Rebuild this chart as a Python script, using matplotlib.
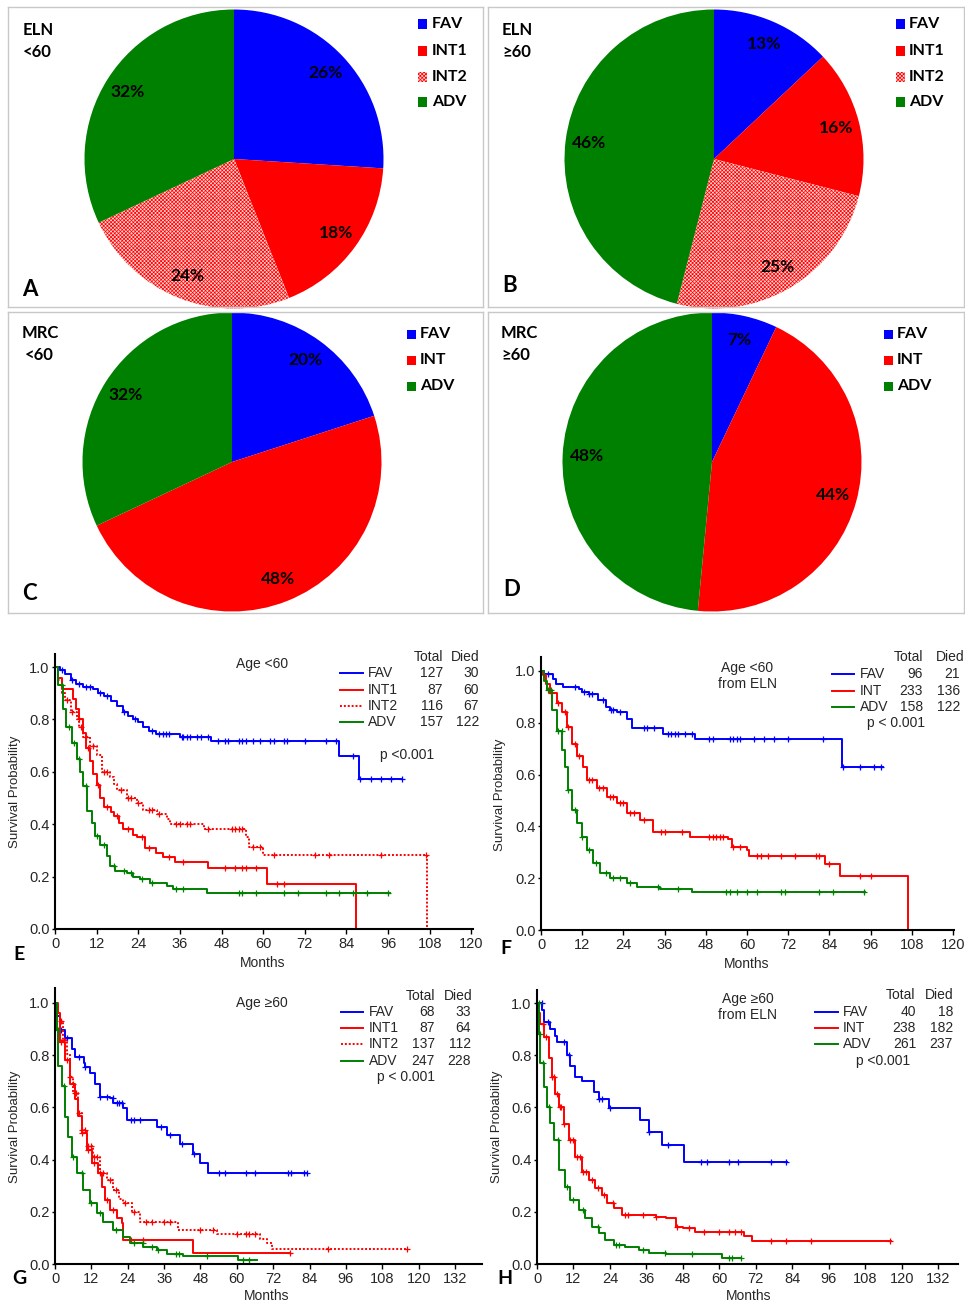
import numpy as np
import matplotlib
matplotlib.use('Agg')
import matplotlib.pyplot as plt
from matplotlib.lines import Line2D
from matplotlib.patches import Rectangle
from matplotlib.ticker import FormatStrFormatter

W, H = 965, 1305
plt.rcParams['hatch.linewidth'] = 0.5

BLUE, RED, GREEN, PINK = '#0000ff', '#ff0000', '#008000', '#ffd2d2'
PIEFONT = ['Lato', 'DejaVu Sans']
KMFONT = ['Liberation Sans', 'DejaVu Sans']
INK = '#262626'

# ---- pie data (percent of patients) ----
ELN_GROUPS = ['FAV', 'INT1', 'INT2', 'ADV']
MRC_GROUPS = ['FAV', 'INT', 'ADV']
eln_lt60 = [26, 18, 24, 32]
eln_ge60 = [13, 16, 25, 46]
mrc_lt60 = [20, 48, 32]
mrc_ge60 = [7, 44, 48]

# ---- Kaplan-Meier curves: step times, survival after step, censor times ----
# E: age <60, ELN
E_FAV_T = [0, 1.5, 3, 4.5, 6, 8, 11, 12.5, 14, 16, 18, 19.5, 21, 22.5, 24, 25.5, 27, 29, 36, 45, 82, 87.5]
E_FAV_S = [1.0, 0.99, 0.975, 0.95, 0.935, 0.925, 0.915, 0.90, 0.89, 0.87, 0.85, 0.83, 0.815, 0.80, 0.79, 0.77,
           0.755, 0.745, 0.735, 0.716, 0.66, 0.573]
E_FAV_C = [2, 5, 7, 9, 10, 13, 15, 20, 23, 28, 30, 31, 32, 33, 36.5, 37, 38, 39, 41, 42, 44, 47, 49, 50, 53, 54,
           55, 57, 59, 62, 63, 66, 67, 72, 78, 81, 86, 88, 91, 94, 97, 100]
E_INT1_T = [0, 1, 2, 5.3, 6, 7, 8, 9, 10, 11, 12, 13, 14, 16, 17, 18.5, 19.5, 22.5, 23.5, 26, 29, 31, 34.5, 44, 61, 86.8]
E_INT1_S = [1.0, 0.96, 0.916, 0.88, 0.84, 0.80, 0.75, 0.69, 0.64, 0.59, 0.55, 0.50, 0.465, 0.445, 0.43, 0.405,
            0.38, 0.36, 0.35, 0.31, 0.29, 0.275, 0.255, 0.233, 0.172, 0.0]
E_INT1_C = [7, 9.5, 12.5, 15, 18, 21, 25, 27, 33, 37, 49, 52, 54, 55, 58, 64, 66]
E_INT2_T = [0, 1, 2, 3, 4.5, 6.25, 7, 8.2, 10, 12, 13.5, 15.9, 17, 17.8, 20.7, 23.6, 25.5, 29.3, 32.2, 33.2, 43,
            55, 56, 60, 107.2]
E_INT2_S = [1.0, 0.95, 0.9, 0.875, 0.83, 0.80, 0.77, 0.735, 0.70, 0.665, 0.60, 0.58, 0.555, 0.53, 0.50, 0.48,
            0.455, 0.44, 0.42, 0.40, 0.383, 0.35, 0.313, 0.284, 0.0]
E_INT2_C = [3.5, 5, 7.5, 9, 11, 14, 15, 19, 21, 22, 24, 27, 28, 30, 35, 36, 38, 39, 44, 51, 52, 53, 54, 57, 59,
            63, 75, 79, 94, 107]
E_ADV_T = [0, 1, 2.4, 3.3, 4.8, 6.3, 7.2, 8.2, 9.3, 10.6, 11.5, 13, 14.9, 15.9, 17.3, 20.7, 22.6, 24.5, 27.4,
           32.2, 34, 43.8]
E_ADV_S = [1.0, 0.93, 0.84, 0.77, 0.71, 0.65, 0.60, 0.545, 0.45, 0.405, 0.354, 0.322, 0.277, 0.24, 0.22, 0.214,
           0.20, 0.19, 0.176, 0.163, 0.153, 0.137]
E_ADV_C = [2, 4, 5.5, 7, 9, 12, 14, 17, 20, 22, 25, 28, 35, 37, 53, 54, 58, 66, 70, 78, 82, 86, 90, 96]
E_END = [100, 86.8, 107.2, 96.6]

# F: age <60, MRC from ELN
F_FAV_T = [0, 1, 3.6, 4.5, 6.5, 11, 12, 14, 16.5, 19, 20, 22, 25, 26.5, 35.6, 45, 87.8]
F_FAV_S = [1.0, 0.99, 0.97, 0.95, 0.94, 0.93, 0.92, 0.91, 0.887, 0.86, 0.85, 0.84, 0.816, 0.778, 0.758, 0.736, 0.63]
F_FAV_C = [2, 10, 12.5, 14, 15, 18, 20.5, 21, 23, 30, 31, 33, 37, 38, 39, 40, 42, 44, 49, 50, 55, 56, 57, 58, 62,
           65, 68, 72, 82, 88, 93, 97, 99]
F_INT_T = [0, 0.6, 1.5, 2.6, 4.6, 6.1, 7.6, 9, 10.4, 12.3, 13.3, 16.2, 19.1, 22, 25, 28.8, 32.6, 43.4, 54.5, 55.5,
           60, 60.5, 82.6, 87, 107]
F_INT_S = [1.0, 0.985, 0.95, 0.915, 0.876, 0.84, 0.785, 0.72, 0.67, 0.63, 0.58, 0.55, 0.515, 0.49, 0.45, 0.425,
           0.38, 0.36, 0.35, 0.32, 0.308, 0.285, 0.254, 0.208, 0.0]
F_INT_C = [3, 5, 7, 8, 10, 11, 14, 15, 17, 18, 20, 21, 23, 24, 26, 27, 30, 35, 36, 41, 49, 50, 51, 52, 53, 56, 58,
           63, 64, 66, 70, 74, 80, 81, 84, 93, 96]
F_ADV_T = [0, 0.8, 1.7, 3.2, 4.6, 6.1, 7, 7.9, 9, 10.4, 12, 13.3, 15.2, 17.2, 20, 25, 28, 34.6, 44]
F_ADV_S = [1.0, 0.96, 0.925, 0.85, 0.77, 0.695, 0.63, 0.54, 0.463, 0.413, 0.36, 0.31, 0.258, 0.22, 0.20, 0.18,
           0.167, 0.16, 0.147]
F_ADV_C = [2, 3, 5, 6, 8, 10, 12, 14, 16, 19, 21, 23, 26, 34, 40, 54, 55, 57, 60, 63, 70, 71, 81, 85, 94]
F_END = [99.6, 107, 94.3]

# G: age >=60, ELN
G_FAV_T = [0, 0.7, 1.6, 3.3, 5.5, 6.6, 9.5, 9.9, 11.6, 13.2, 14.9, 18.2, 19.3, 22.6, 23.7, 33.6, 36.9, 41.3, 45.7,
           47.9, 50.6]
G_FAV_S = [1.0, 0.95, 0.895, 0.864, 0.825, 0.793, 0.77, 0.755, 0.73, 0.69, 0.64, 0.634, 0.615, 0.596, 0.55, 0.525,
           0.494, 0.46, 0.42, 0.388, 0.347]
G_FAV_C = [2, 4, 8, 10, 15, 17, 19, 20.5, 21, 22, 25, 26, 28, 35, 38, 42, 46, 54, 56, 63, 66, 77, 78, 82, 83]
G_INT1_T = [0, 1, 1.65, 3.3, 5, 6.6, 7.7, 8.9, 10.5, 12.1, 14.3, 15.4, 16.5, 18.2, 20.4, 22, 22.6, 45.4]
G_INT1_S = [1.0, 0.96, 0.85, 0.78, 0.69, 0.63, 0.565, 0.50, 0.437, 0.387, 0.35, 0.296, 0.245, 0.207, 0.176,
            0.157, 0.092, 0.043]
G_INT1_C = [2, 4, 6, 9, 11, 13, 15, 17, 19, 25, 29, 77.6]
G_INT2_T = [0, 0.8, 1.65, 2.75, 3.85, 4.95, 6, 7.7, 8.8, 10.5, 12.6, 14.9, 17, 19.3, 21, 22.6, 25.3, 28, 40.7,
            53.4, 67.7, 69.9, 71.5]
G_INT2_S = [1.0, 0.96, 0.93, 0.857, 0.806, 0.717, 0.653, 0.577, 0.513, 0.45, 0.41, 0.347, 0.32, 0.283, 0.25,
            0.232, 0.20, 0.162, 0.13, 0.115, 0.095, 0.079, 0.056]
G_INT2_C = [2, 3, 5, 6.5, 7, 8, 9, 10, 11, 12, 13, 14, 16, 18, 20, 23, 26, 30, 32, 36, 38, 48, 52, 60, 63, 64, 66,
            90, 116]
G_ADV_T = [0, 0.55, 1.1, 2.2, 3.3, 4.4, 5.5, 7.2, 9.4, 11.6, 13.8, 16, 19.3, 22.6, 24.8, 29.2, 33.6, 36.9, 42.4, 60.5]
G_ADV_S = [1.0, 0.895, 0.76, 0.68, 0.564, 0.487, 0.41, 0.347, 0.283, 0.232, 0.194, 0.162, 0.13, 0.105, 0.079,
           0.066, 0.054, 0.038, 0.031, 0.015]
G_ADV_C = [1, 3, 6, 9, 12, 15, 20, 26, 29, 32, 34, 40, 41, 50, 62, 64]
G_END = [83, 77.6, 116, 66.6]

# H: age >=60, MRC from ELN
H_FAV_T = [0, 1.6, 2.2, 4.4, 6, 6.6, 9.9, 11, 12.6, 14.8, 18.7, 20.3, 23.6, 34, 36.8, 41.2, 48.3]
H_FAV_S = [1.0, 0.974, 0.927, 0.90, 0.875, 0.85, 0.80, 0.76, 0.717, 0.70, 0.66, 0.634, 0.596, 0.55, 0.506, 0.455,
           0.39]
H_FAV_C = [1.5, 3.5, 9, 10.5, 20.5, 21.5, 24, 37, 43, 54, 56, 63, 66, 77, 82]
H_INT_T = [0, 0.5, 1.1, 2.2, 3.8, 4.9, 6, 7.1, 8.8, 10.4, 12.6, 14.8, 17, 19.2, 21.4, 23, 25.2, 28, 39, 42.3, 45.6,
           48, 52.1, 68, 70.8]
H_INT_S = [1.0, 0.96, 0.92, 0.87, 0.79, 0.717, 0.653, 0.602, 0.538, 0.474, 0.41, 0.353, 0.32, 0.29, 0.264, 0.232,
           0.213, 0.187, 0.18, 0.175, 0.143, 0.138, 0.124, 0.107, 0.089]
H_INT_C = [2, 3, 5, 5.5, 6.5, 7.5, 8, 9, 11, 12, 13, 14, 15, 16, 18, 20, 22, 25, 29, 30, 35, 39, 46, 50, 55, 60, 63,
           65, 67, 77, 82, 90, 116]
H_ADV_T = [0, 0.55, 1.1, 2.2, 3.3, 4.4, 5.5, 7.1, 9.3, 11, 13.7, 15.9, 18.1, 20.3, 22.5, 25.2, 29.1, 33.5, 36.8,
           42.3, 61]
H_ADV_S = [1.0, 0.88, 0.77, 0.68, 0.60, 0.54, 0.474, 0.36, 0.296, 0.245, 0.207, 0.175, 0.143, 0.117, 0.092, 0.073,
           0.066, 0.054, 0.043, 0.037, 0.022]
H_ADV_C = [0.5, 1, 2, 4, 7, 10, 12, 15, 20, 26, 27, 35, 42, 51, 63, 64, 67]
H_END = [82.3, 116.4, 67]

# legend tables
E_TOTAL, E_DIED = [127, 87, 116, 157], [30, 60, 67, 122]
F_TOTAL, F_DIED = [96, 233, 158], [21, 136, 122]
G_TOTAL, G_DIED = [68, 87, 137, 247], [33, 64, 112, 228]
H_TOTAL, H_DIED = [40, 238, 261], [18, 182, 237]

fig = plt.figure(figsize=(W / 100, H / 100), dpi=100)


def fx(x):
    return x / W


def fy(y):
    return 1 - y / H


def pie_panel(box, center, r, vals, names, title, letter, leg_sq, leg_tx, leg_rows):
    x0, y0, x1, y1 = box
    ax = fig.add_axes([fx(x0), fy(y1), (x1 - x0) / W, (y1 - y0) / H])
    cols = [BLUE, RED, PINK, GREEN] if len(vals) == 4 else [BLUE, RED, GREEN]
    wedges, _, _ = ax.pie(vals, colors=cols, startangle=90, counterclock=False,
                          center=(center[0], H - center[1]), radius=r,
                          autopct=lambda p: f'{p:.0f}%', pctdistance=0.84,
                          wedgeprops=dict(linewidth=0),
                          textprops=dict(fontsize=12.5, fontweight='bold', family=PIEFONT, color='black'))
    if len(vals) == 4:
        wedges[2].set_edgecolor(RED)
        wedges[2].set_linewidth(0)
        wedges[2].set_hatch('x' * 9)
    ax.set_aspect('auto')
    ax.set_xlim(x0, x1)
    ax.set_ylim(H - y1, H - y0)
    ax.set_frame_on(True)
    for sp in ax.spines.values():
        sp.set_color('#c8c8c8')
        sp.set_linewidth(1)
    # title and panel letter
    fig.text(fx(title[0]), fy(title[1]), title[2], fontsize=12, fontweight='bold', family=PIEFONT,
             ha='left', va='center')
    fig.text(fx(title[3]), fy(title[4]), title[5], fontsize=12, fontweight='bold', family=PIEFONT,
             ha='left', va='center')
    fig.text(fx(letter[0]), fy(letter[1]), letter[2], fontsize=16, fontweight='bold', family=PIEFONT,
             ha='left', va='center')
    # legend
    for i, (nm, w) in enumerate(zip(names, wedges)):
        yc = leg_rows[i]
        sq = Rectangle((fx(leg_sq), fy(yc + 4.5)), 9 / W, 9 / H, transform=fig.transFigure,
                       facecolor=w.get_facecolor(), edgecolor=RED if w.get_hatch() else 'none',
                       linewidth=0, hatch=w.get_hatch())
        fig.add_artist(sq)
        fig.text(fx(leg_tx), fy(yc), nm, fontsize=11.5, fontweight='bold', family=PIEFONT, ha='left', va='center')


pie_panel((8, 7, 483, 307), (234, 159), 149.5, eln_lt60, ELN_GROUPS,
          (23, 30, 'ELN', 23, 52, '<60'), (22, 290, 'A'), 418, 432, [24, 51, 77, 102])
pie_panel((488, 7, 964, 307), (714, 159), 149.5, eln_ge60, ELN_GROUPS,
          (502, 30, 'ELN', 502, 52, '≥60'), (502, 286, 'B'), 896, 909, [24, 51, 77, 102])
pie_panel((8, 312, 483, 613), (232, 462), 149.5, mrc_lt60, MRC_GROUPS,
          (22, 333, 'MRC', 25, 355, '<60'), (22, 593, 'C'), 407, 420, [334, 360, 386])
pie_panel((488, 312, 964, 613), (712, 462), 149.5, mrc_ge60, MRC_GROUPS,
          (501, 333, 'MRC', 501, 355, '≥60'), (503, 590, 'D'), 884, 897, [334, 360, 386])


def step_at(T, S, t):
    i = np.searchsorted(T, t, side='right') - 1
    return np.asarray(S)[i]


def km_panel(box, xmax, ymax, xticks, curves, ends, totals, died, lay):
    x0, x1, yt, yb = box
    ax = fig.add_axes([fx(x0), fy(yb), (x1 - x0) / W, (yb - yt) / H])
    for (T, S, C, col, ls), end in zip(curves, ends):
        tt = list(T) + [end]
        ss = list(S) + [S[-1]]
        ax.plot(tt, ss, drawstyle='steps-post', color=col, lw=1.4, linestyle=ls, clip_on=False)
        cc = np.array(C)
        ax.plot(cc, step_at(np.array(T), S, cc), linestyle='none', marker='+', ms=5, mew=0.9, color=col,
                clip_on=False)
    ax.set_xlim(0, xmax)
    ax.set_ylim(0, ymax)
    ax.set_xticks(xticks)
    ax.set_yticks(np.arange(0, 1.01, 0.2))
    ax.yaxis.set_major_formatter(FormatStrFormatter('%.1f'))
    for sp in ['top', 'right']:
        ax.spines[sp].set_visible(False)
    for sp in ['left', 'bottom']:
        ax.spines[sp].set_linewidth(1.5)
    ax.tick_params(axis='x', direction='out', length=3.5, width=1, labelsize=10.5, labelcolor=INK, pad=2)
    ax.tick_params(axis='y', direction='out', length=2, width=1, labelsize=10.5, labelcolor=INK, pad=2)
    for lb in ax.get_xticklabels() + ax.get_yticklabels():
        lb.set_family(KMFONT)
    kw = dict(fontsize=10, family=KMFONT, color=INK, va='center')
    # axis labels and panel letter
    fig.text(fx(lay['ylab'][0]), fy(lay['ylab'][1]), 'Survival Probability', rotation=90, ha='center',
             **dict(kw, fontsize=9.5))
    fig.text(fx(lay['xlab'][0]), fy(lay['xlab'][1]), 'Months', ha='center', **kw)
    fig.text(fx(lay['letter'][0]), fy(lay['letter'][1]), lay['letter'][2], fontsize=14, fontweight='bold',
             family=PIEFONT, ha='left', va='center')
    # title
    fig.text(fx(lay['title'][0]), fy(lay['title'][1]), lay['title'][2], ha='center', linespacing=1.1, **kw)
    # legend table
    fig.text(fx(lay['hdr'][0]), fy(lay['hdr'][2]), 'Total', ha='center', **kw)
    fig.text(fx(lay['hdr'][1]), fy(lay['hdr'][2]), 'Died', ha='center', **kw)
    names = lay['names']
    for i, ((T, S, C, col, ls), nm) in enumerate(zip(curves, names)):
        yc = lay['rows'][i]
        fig.add_artist(Line2D([fx(lay['line'][0]), fx(lay['line'][1])], [fy(yc), fy(yc)],
                              transform=fig.transFigure, color=col, lw=1.4, linestyle=ls))
        fig.text(fx(lay['cols'][0]), fy(yc), nm, ha='left', **kw)
        fig.text(fx(lay['cols'][1]), fy(yc), str(totals[i]), ha='right', **kw)
        fig.text(fx(lay['cols'][2]), fy(yc), str(died[i]), ha='right', **kw)
    fig.text(fx(lay['p'][0]), fy(lay['p'][1]), lay['p'][2], ha='center', **kw)
    return ax


DOT = (0, (1, 1))
km_panel((55, 473, 654, 929), 120.5, 1.05, range(0, 121, 12),
         [(E_FAV_T, E_FAV_S, E_FAV_C, BLUE, '-'), (E_INT1_T, E_INT1_S, E_INT1_C, RED, '-'),
          (E_INT2_T, E_INT2_S, E_INT2_C, RED, DOT), (E_ADV_T, E_ADV_S, E_ADV_C, GREEN, '-')],
         E_END, E_TOTAL, E_DIED,
         dict(ylab=(15, 792), xlab=(263, 963), letter=(13, 954, 'E'), title=(262, 664, 'Age <60'),
              hdr=(428, 465, 657), names=ELN_GROUPS, rows=[673, 690, 706, 722], line=(340, 363),
              cols=(368, 443, 479), p=(407, 755, 'p <0.001')))
km_panel((541, 954, 657, 930), 120.3, 1.054, range(0, 121, 12),
         [(F_FAV_T, F_FAV_S, F_FAV_C, BLUE, '-'), (F_INT_T, F_INT_S, F_INT_C, RED, '-'),
          (F_ADV_T, F_ADV_S, F_ADV_C, GREEN, '-')],
         F_END, F_TOTAL, F_DIED,
         dict(ylab=(500, 795), xlab=(747, 964), letter=(500, 949, 'F'), title=(747, 676, 'Age <60\nfrom ELN'),
              hdr=(908, 950, 657), names=MRC_GROUPS, rows=[674, 691, 707], line=(832, 854),
              cols=(860, 923, 960), p=(896, 723, 'p < 0.001')))
km_panel((55, 482, 988, 1264), 140.9, 1.057, range(0, 133, 12),
         [(G_FAV_T, G_FAV_S, G_FAV_C, BLUE, '-'), (G_INT1_T, G_INT1_S, G_INT1_C, RED, '-'),
          (G_INT2_T, G_INT2_S, G_INT2_C, RED, DOT), (G_ADV_T, G_ADV_S, G_ADV_C, GREEN, '-')],
         G_END, G_TOTAL, G_DIED,
         dict(ylab=(15, 1127), xlab=(267, 1296), letter=(12, 1279, 'G'), title=(262, 1003, 'Age ≥60'),
              hdr=(420, 458, 996), names=ELN_GROUPS, rows=[1012, 1028, 1044, 1061], line=(341, 363),
              cols=(369, 435, 471), p=(406, 1077, 'p < 0.001')))
km_panel((537, 958, 990, 1264), 138.5, 1.05, range(0, 133, 12),
         [(H_FAV_T, H_FAV_S, H_FAV_C, BLUE, '-'), (H_INT_T, H_INT_S, H_INT_C, RED, '-'),
          (H_ADV_T, H_ADV_S, H_ADV_C, GREEN, '-')],
         H_END, H_TOTAL, H_DIED,
         dict(ylab=(497, 1127), xlab=(749, 1296), letter=(497, 1278, 'H'), title=(748, 1007, 'Age ≥60\nfrom ELN'),
              hdr=(900, 939, 995), names=MRC_GROUPS, rows=[1012, 1028, 1044], line=(815, 838),
              cols=(843, 916, 953), p=(883, 1061, 'p <0.001')))

fig.savefig('out.png', dpi=100)
